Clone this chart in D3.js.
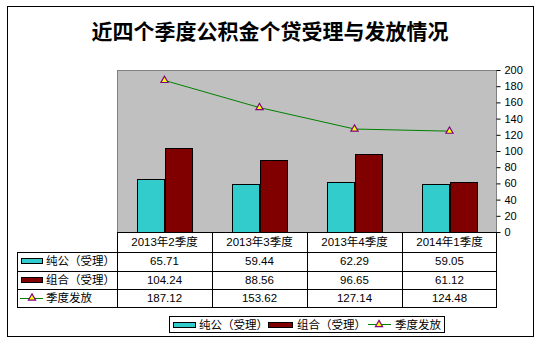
<!DOCTYPE html>
<html><head><meta charset="utf-8">
<script src="https://cdn.jsdelivr.net/npm/d3@7"></script>
<style>
html,body{margin:0;padding:0;background:#fff;}
svg{display:block;}
text{font-family:"Liberation Sans","Noto Sans CJK SC",sans-serif;}
</style></head>
<body>
<script>
const title = "近四个季度公积金个贷受理与发放情况";
const categories = ["2013年2季度","2013年3季度","2013年4季度","2014年1季度"];
const seriesNames = ["纯公（受理）","组合（受理）","季度发放"];
const chungong = [65.71, 59.44, 62.29, 59.05];
const zuhe = [104.24, 88.56, 96.65, 61.12];
const fafang = [187.12, 153.62, 127.14, 124.48];
const yTicks = [0,20,40,60,80,100,120,140,160,180,200];

const W = 542, H = 343;
const plot = {l:117, r:497, t:70, b:232};
const colors = {cg:"#33CCCC", zh:"#800000", line:"#008000", mk:"#FFFF00", mkStroke:"#800080"};

const svg = d3.select("body").append("svg").attr("width",W).attr("height",H);

// outer frame
svg.append("rect").attr("x",7.5).attr("y",6.5).attr("width",526).attr("height",330)
  .attr("fill","#fff").attr("stroke","#000").attr("stroke-width",1);

// title
svg.append("text").attr("x",270).attr("y",39).attr("text-anchor","middle")
  .attr("font-size",21).attr("font-weight","bold")
  .style("font-family","'Noto Sans CJK SC',sans-serif").text(title);

const x = d3.scaleBand().domain(categories).range([plot.l, plot.r]);
const y = d3.scaleLinear().domain([0,200]).range([plot.b, plot.t]);
const xs = d3.scaleBand().domain(["cg","zh"]).range([0, x.bandwidth()]).paddingInner(0).paddingOuter(0.75);

// plot area
svg.append("rect").attr("x",plot.l+0.5).attr("y",plot.t+0.5)
  .attr("width",plot.r-plot.l-1).attr("height",plot.b-plot.t)
  .attr("fill","#C0C0C0").attr("stroke","#808080");

// bars
const g = svg.append("g");
categories.forEach((c,i)=>{
  [["cg",chungong[i]],["zh",zuhe[i]]].forEach(([k,v])=>{
    const bx = Math.round(x(c)+xs(k))+0.5;
    g.append("rect").attr("x",bx).attr("y",Math.round(y(v))+0.5)
      .attr("width",Math.round(xs.bandwidth()))
      .attr("height",plot.b-Math.round(y(v)))
      .attr("fill",colors[k]).attr("stroke","#000").attr("stroke-width",1);
  });
});

// line + markers
const line = d3.line().x((d,i)=>x(categories[i])+x.bandwidth()/2).y(d=>y(d));
svg.append("path").datum(fafang).attr("d",line).attr("fill","none")
  .attr("stroke",colors.line).attr("stroke-width",1);
const tri = d3.symbol().type(d3.symbolTriangle).size(22);
fafang.forEach((v,i)=>{
  svg.append("path").attr("d",tri())
    .attr("transform",`translate(${x(categories[i])+x.bandwidth()/2},${y(v)})`)
    .attr("fill",colors.mk).attr("stroke",colors.mkStroke).attr("stroke-width",1.2);
});

// right axis
const axis = d3.axisRight(y).tickValues(yTicks).tickSize(4).tickPadding(4);
const ag = svg.append("g").attr("transform",`translate(${plot.r-0.5},0)`).call(axis);
ag.select(".domain").remove();
ag.selectAll("text").attr("font-size",11).attr("fill","#000")
  .style("font-family","'Liberation Sans',sans-serif");
ag.selectAll("line").attr("stroke","#000");

// data table
const rowY = [232, 252, 270.5, 289, 307];
const tbl = svg.append("g").attr("stroke","#000").attr("fill","none");
// header row
tbl.append("rect").attr("x",plot.l+0.5).attr("y",rowY[0]+0.5).attr("width",plot.r-plot.l-1).attr("height",rowY[1]-rowY[0]);
// body
tbl.append("rect").attr("x",17.5).attr("y",rowY[1]+0.5).attr("width",plot.r-17-1).attr("height",rowY[4]-rowY[1]);
[rowY[2],rowY[3]].forEach(yy=>tbl.append("line").attr("x1",17).attr("x2",plot.r).attr("y1",Math.round(yy)+0.5).attr("y2",Math.round(yy)+0.5));
categories.forEach((c,i)=>{
  const xx = Math.round(x(c))+0.5;
  tbl.append("line").attr("x1",xx).attr("x2",xx).attr("y1",rowY[0]).attr("y2",rowY[4]);
});

const fs = 11.5;
categories.forEach(c=>{
  svg.append("text").attr("x",x(c)+x.bandwidth()/2).attr("y",(rowY[0]+rowY[1])/2+4)
    .attr("text-anchor","middle").attr("font-size",fs).text(c);
});
const rows = [chungong, zuhe, fafang];
rows.forEach((arr,r)=>{
  const cy = (rowY[r+1]+rowY[r+2])/2;
  arr.forEach((v,i)=>{
    svg.append("text").attr("x",x(categories[i])+x.bandwidth()/2).attr("y",cy+4)
      .attr("text-anchor","middle").attr("font-size",fs).text(v.toFixed(2));
  });
  // legend key
  if(r<2){
    svg.append("rect").attr("x",21.5).attr("y",Math.round(cy)-2.5).attr("width",21).attr("height",5)
      .attr("fill",r===0?colors.cg:colors.zh).attr("stroke","#000");
  } else {
    svg.append("line").attr("x1",20).attr("x2",43).attr("y1",Math.round(cy)+0.5).attr("y2",Math.round(cy)+0.5)
      .attr("stroke",colors.line);
    svg.append("path").attr("d",tri()).attr("transform",`translate(32,${Math.round(cy)})`)
      .attr("fill",colors.mk).attr("stroke",colors.mkStroke).attr("stroke-width",1.2);
  }
  svg.append("text").attr("x",46).attr("y",cy+4).attr("font-size",fs)
    .style("font-family","'Noto Sans CJK SC',sans-serif").text(seriesNames[r]);
});

// legend box
const lg = svg.append("g");
lg.append("rect").attr("x",169.5).attr("y",316.5).attr("width",275).attr("height",16)
  .attr("fill","#fff").attr("stroke","#000");
const ly = 324.5;
lg.append("rect").attr("x",173.5).attr("y",ly-2).attr("width",22).attr("height",5)
  .attr("fill",colors.cg).attr("stroke","#000");
lg.append("text").attr("x",199).attr("y",ly+4).attr("font-size",fs)
  .style("font-family","'Noto Sans CJK SC',sans-serif").text(seriesNames[0]);
lg.append("rect").attr("x",268.5).attr("y",ly-2).attr("width",24).attr("height",5)
  .attr("fill",colors.zh).attr("stroke","#000");
lg.append("text").attr("x",297).attr("y",ly+4).attr("font-size",fs)
  .style("font-family","'Noto Sans CJK SC',sans-serif").text(seriesNames[1]);
lg.append("line").attr("x1",368).attr("x2",391).attr("y1",ly).attr("y2",ly).attr("stroke",colors.line);
lg.append("path").attr("d",tri()).attr("transform",`translate(379,${ly})`)
  .attr("fill",colors.mk).attr("stroke",colors.mkStroke).attr("stroke-width",1.2);
lg.append("text").attr("x",395).attr("y",ly+4).attr("font-size",fs)
  .style("font-family","'Noto Sans CJK SC',sans-serif").text(seriesNames[2]);
</script>
</body></html>
